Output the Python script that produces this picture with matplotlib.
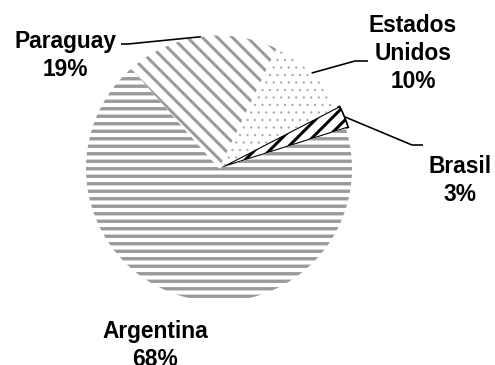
import matplotlib
matplotlib.use("Agg")
import matplotlib.pyplot as plt
import numpy as np

# ---- data ----
countries = ["Brasil", "Estados\nUnidos", "Paraguay", "Argentina"]
shares = [2.7, 10.3, 18.6, 68.4]
pct_labels = ["3%", "10%", "19%", "68%"]

# ---- style ----
hatches = ["//", "..", "\\\\", "--"]
hatch_colors = ["black", "#a8a8a8", "#9a9a9a", "#9a9a9a"]
hatch_lws = [2.4, 0.6, 2.4, 2.7]
edge_lws = [1.4, 0, 0, 0]
explode_frac = [0.02, 0, 0, 0]

DPI = 90
W, H = 495, 365
plt.rcParams["font.family"] = ["Liberation Sans", "DejaVu Sans"]
plt.rcParams["hatch.linewidth"] = 2.5

fig = plt.figure(figsize=(W / DPI, H / DPI), dpi=DPI)
ax = fig.add_axes([0, 0, 1, 1])

cx, cy, R = 219, H - 168.5, 133
wedges, _ = ax.pie(shares, radius=R, center=(cx, cy), startangle=17.6,
                   counterclock=True, explode=[e * R for e in explode_frac],
                   frame=True, colors=["white"] * 4,
                   wedgeprops=dict(linewidth=0))
for w, h, hc, hl, el in zip(wedges, hatches, hatch_colors, hatch_lws, edge_lws):
    w.set_hatch(h)
    w.set_edgecolor(hc)
    w.set_linewidth(el)
    if hasattr(w, "set_hatch_linewidth"):
        w.set_hatch_linewidth(hl)
wedges[0].set_edgecolor("black")

ax.set_xlim(0, W)
ax.set_ylim(0, H)
ax.axis("off")

# ---- labels (positions in pixels from top-left) ----
label_pos = [(460, 155), (413, 14), (65, 30), (155, 320)]
# leader lines: elbow point and end point near the label
leaders = [((412, 145), (423, 145)), ((355, 61), (368, 61)),
           ((128, 44), (121, 44)), None]

for w, name, pct, (lx, ly), ld in zip(wedges, countries, pct_labels, label_pos, leaders):
    ax.text(lx, H - ly, f"{name}\n{pct}", ha="center", va="top",
            fontsize=18.2, fontweight="bold", linespacing=1.27, color="black")
    if ld is not None:
        tm = np.deg2rad((w.theta1 + w.theta2) / 2)
        ax0 = w.center[0] + w.r * np.cos(tm)
        ay0 = w.center[1] + w.r * np.sin(tm)
        xs = [ax0, ld[0][0], ld[1][0]]
        ys = [ay0, H - ld[0][1], H - ld[1][1]]
        ax.plot(xs, ys, color="black", lw=1.3, solid_capstyle="butt")

fig.savefig("out.png", dpi=DPI, facecolor="white")
